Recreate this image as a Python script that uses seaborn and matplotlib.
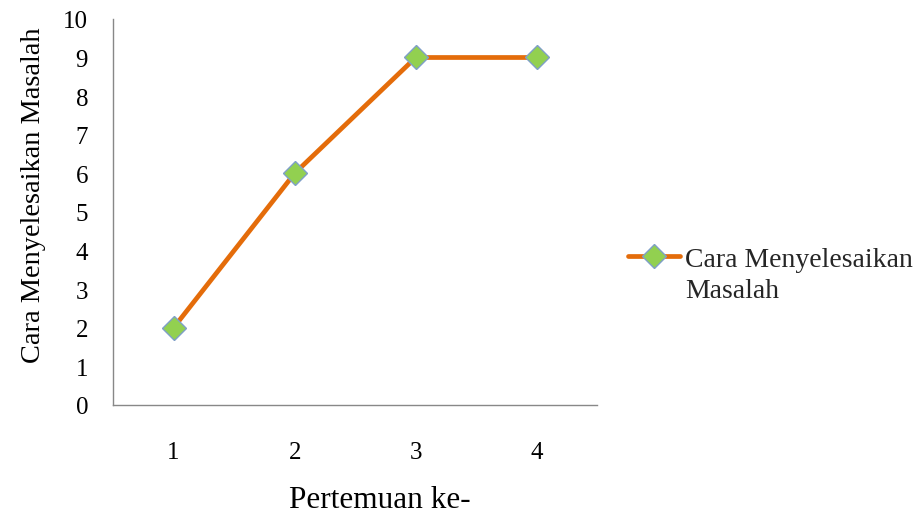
import matplotlib
matplotlib.use("Agg")
import matplotlib.pyplot as plt
import seaborn as sns
import pandas as pd
from matplotlib.lines import Line2D

pertemuan = [1, 2, 3, 4]
nilai = [2, 6, 9, 9]
series_name = "Cara Menyelesaikan Masalah"
legend_lines = ["Cara Menyelesaikan", "Masalah"]

sns.set_theme(style="white")
plt.rcParams['font.family'] = ['Liberation Serif', 'DejaVu Serif']

df = pd.DataFrame({"Pertemuan ke-": pertemuan, series_name: nilai})

fig = plt.figure(figsize=(9.19, 5.10), dpi=100)
ax = fig.add_axes([0.123, 0.204, 0.527, 0.757])

line_color = "#E46C0A"
marker_face = "#92D050"
marker_edge = "#7F9FC8"

sns.lineplot(data=df, x="Pertemuan ke-", y=series_name, ax=ax,
             color=line_color, linewidth=3.4, marker="D", markersize=12,
             markerfacecolor=marker_face, markeredgecolor=marker_edge,
             markeredgewidth=1, legend=False)

ax.set_xlim(0.5, 4.5)
ax.set_ylim(0, 10)
ax.set_xticks(pertemuan)
ax.set_xticklabels([str(p) for p in pertemuan])
ax.set_yticks(range(0, 11))
ax.tick_params(axis='both', length=0, labelsize=18, colors='black')
ax.tick_params(axis='y', pad=18)
ax.tick_params(axis='x', pad=26)

for s in ["top", "right"]:
    ax.spines[s].set_visible(False)
for s in ["left", "bottom"]:
    ax.spines[s].set_color("#888888")
    ax.spines[s].set_linewidth(1)

ax.set_xlabel("Pertemuan ke-", fontsize=22.5, color='black')
ax.set_ylabel(series_name, fontsize=20.4, color='black')
ax.xaxis.set_label_coords(0.551, -0.208, transform=ax.transAxes)
ax.yaxis.set_label_coords(-0.138, 0.545, transform=ax.transAxes)

handle = Line2D([0], [0], color=line_color, linewidth=3.4, marker="D", markersize=12,
                markerfacecolor=marker_face, markeredgecolor=marker_edge, markeredgewidth=1)
blank = Line2D([0], [0], color='none')
fig.legend([handle, blank], legend_lines, loc="center left",
           bbox_to_anchor=(0.683, 0.46), frameon=False, fontsize=20,
           handlelength=1.9, handletextpad=0.18, borderaxespad=0, borderpad=0,
           labelspacing=0.2)

fig.savefig("out.png", dpi=100)
